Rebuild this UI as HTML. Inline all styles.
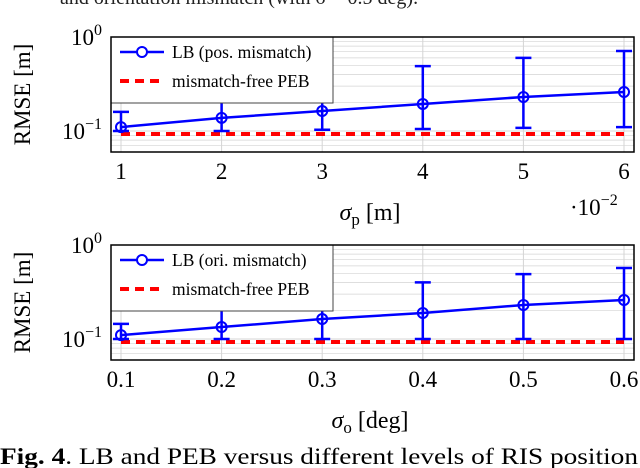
<!DOCTYPE html>
<html><head><meta charset="utf-8"><style>
body{margin:0;background:#fff;}
svg{display:block;font-family:"Liberation Serif",serif;}
</style></head><body>
<svg id="c" width="640" height="468" viewBox="0 0 640 468" xmlns="http://www.w3.org/2000/svg">
<text x="60" y="4" font-size="20" fill="#222">and orientation mismatch (with σ = 0.5 deg).</text>
<text x="0" y="464" font-size="23" textLength="638" lengthAdjust="spacingAndGlyphs"><tspan font-weight="bold">Fig. 4</tspan>.   LB and PEB versus different levels of RIS position</text>
</svg>
<script>
const xTop=[1,2,3,4,5,6];
const lbTop=[0.110,0.138,0.163,0.194,0.230,0.260];
const hiTop=[0.16,0.26,0.37,0.49,0.60,0.71];
const loTop=[0.1,0.1,0.103,0.105,0.108,0.11];
const pebTop=0.093;
const xBot=[0.1,0.2,0.3,0.4,0.5,0.6];
const lbBot=[0.110,0.134,0.163,0.189,0.230,0.260];
const hiBot=[0.145,0.22,0.31,0.40,0.49,0.57];
const loBot=[0.1,0.1,0.1,0.1,0.1,0.1];
const pebBot=0.093;
const xTickTop=["1","2","3","4","5","6"];
const xTickBot=["0.1","0.2","0.3","0.4","0.5","0.6"];

const NS="http://www.w3.org/2000/svg";
const svg=document.getElementById('c');
function mk(t,a,p){const e=document.createElementNS(NS,t);for(const k in a)e.setAttribute(k,a[k]);(p||svg).appendChild(e);return e;}

function panel(top,xs,lb,hi,lo,peb,ticks,legendText,sub,unit,name){
  const L=111,R=634,T=top,B=top+115;
  const x0=xs[0],x1=xs[xs.length-1];
  const xf=v=>121+(v-x0)/(x1-x0)*503;
  const yf=v=>T-Math.log10(v)*94;
  const g=mk('g',{});
  
  
  for(let d=-2;d<=0;d++)for(let m=1;m<10;m++){const v=m*Math.pow(10,d);const y=yf(v);if(y<T||y>B)continue;
    const l=mk('line',{x1:L,x2:R,y1:y,y2:y,stroke:'#d4d4d4','stroke-width':m==1?1:0.7},g);
    }
  xs.forEach(v=>{const l=mk('line',{x1:xf(v),x2:xf(v),y1:T,y2:B,stroke:'#d4d4d4','stroke-width':1},g);
    });
  const pe=mk('line',{x1:xf(x0),x2:xf(x1),y1:yf(peb),y2:yf(peb),stroke:'#f00','stroke-width':4,'stroke-dasharray':'9,6'},g);
  
  xs.forEach((v,i)=>{const x=xf(v);
    const e=mk('path',{d:`M${x},${yf(lo[i])}V${yf(hi[i])}M${x-8},${yf(hi[i])}H${x+8}M${x-8},${yf(lo[i])}H${x+8}`,stroke:'#00f','stroke-width':2.5,fill:'none'},g);
    });
  const ln=mk('polyline',{points:xs.map((v,i)=>xf(v)+','+yf(lb[i])).join(' '),stroke:'#00f','stroke-width':2.5,fill:'none'},g);
  
  xs.forEach((v,i)=>{const c=mk('circle',{cx:xf(v),cy:yf(lb[i]),r:5,stroke:'#00f','stroke-width':2,fill:'none'},g);
    });
  const lg=mk('g',{},g);
  
  mk('rect',{x:L,y:T,width:222,height:66,fill:'#fff',stroke:'#444','stroke-width':1},lg);
  mk('line',{x1:120,x2:164,y1:T+15,y2:T+15,stroke:'#00f','stroke-width':2.5},lg);
  mk('circle',{cx:142,cy:T+15,r:5,stroke:'#00f','stroke-width':2,fill:'#fff'},lg);
  const t1=mk('text',{x:172,y:T+21,'font-size':17.5},lg);t1.textContent=legendText;
  
  mk('line',{x1:120,x2:164,y1:T+44,y2:T+44,stroke:'#f00','stroke-width':4,'stroke-dasharray':'9,6'},lg);
  const t2=mk('text',{x:172,y:T+50,'font-size':17.5},lg);t2.textContent='mismatch-free PEB';
  
  const fr=mk('rect',{x:L,y:T,width:R-L,height:B-T,fill:'none',stroke:'#000','stroke-width':1.5},g);
  
  xs.forEach((v,i)=>{const t=mk('text',{x:xf(v),y:B+27,'font-size':23,'text-anchor':'middle'},g);t.textContent=ticks[i];
    });
  [[0,'0'],[-1,'−1']].forEach(([d,s])=>{const t=mk('text',{x:102,y:yf(Math.pow(10,d))+8,'font-size':23,'text-anchor':'end'},g);
    t.innerHTML='10<tspan dy="-10" font-size="16">'+s+'</tspan>';
    });
  const yl=mk('text',{x:0,y:0,'font-size':23,'text-anchor':'middle',transform:`translate(30,${(T+B)/2}) rotate(-90)`},g);
  yl.textContent='RMSE [m]';
  const xl=mk('text',{x:370,y:B+68,'font-size':24,'text-anchor':'middle'},g);
  xl.innerHTML='<tspan font-style="italic">σ</tspan><tspan font-size="17" dy="5">'+sub+'</tspan><tspan dy="-5"> ['+unit+']</tspan>';
  
}
panel(37,xTop,lbTop,hiTop,loTop,pebTop,xTickTop,'LB (pos. mismatch)','p','m','top-panel');
panel(245,xBot,lbBot,hiBot,loBot,pebBot,xTickBot,'LB (ori. mismatch)','o','deg','bottom-panel');
const ex=mk('text',{x:570,y:215,'font-size':23});
ex.innerHTML='·10<tspan dy="-10" font-size="16">−2</tspan>';


</script>
</body></html>
